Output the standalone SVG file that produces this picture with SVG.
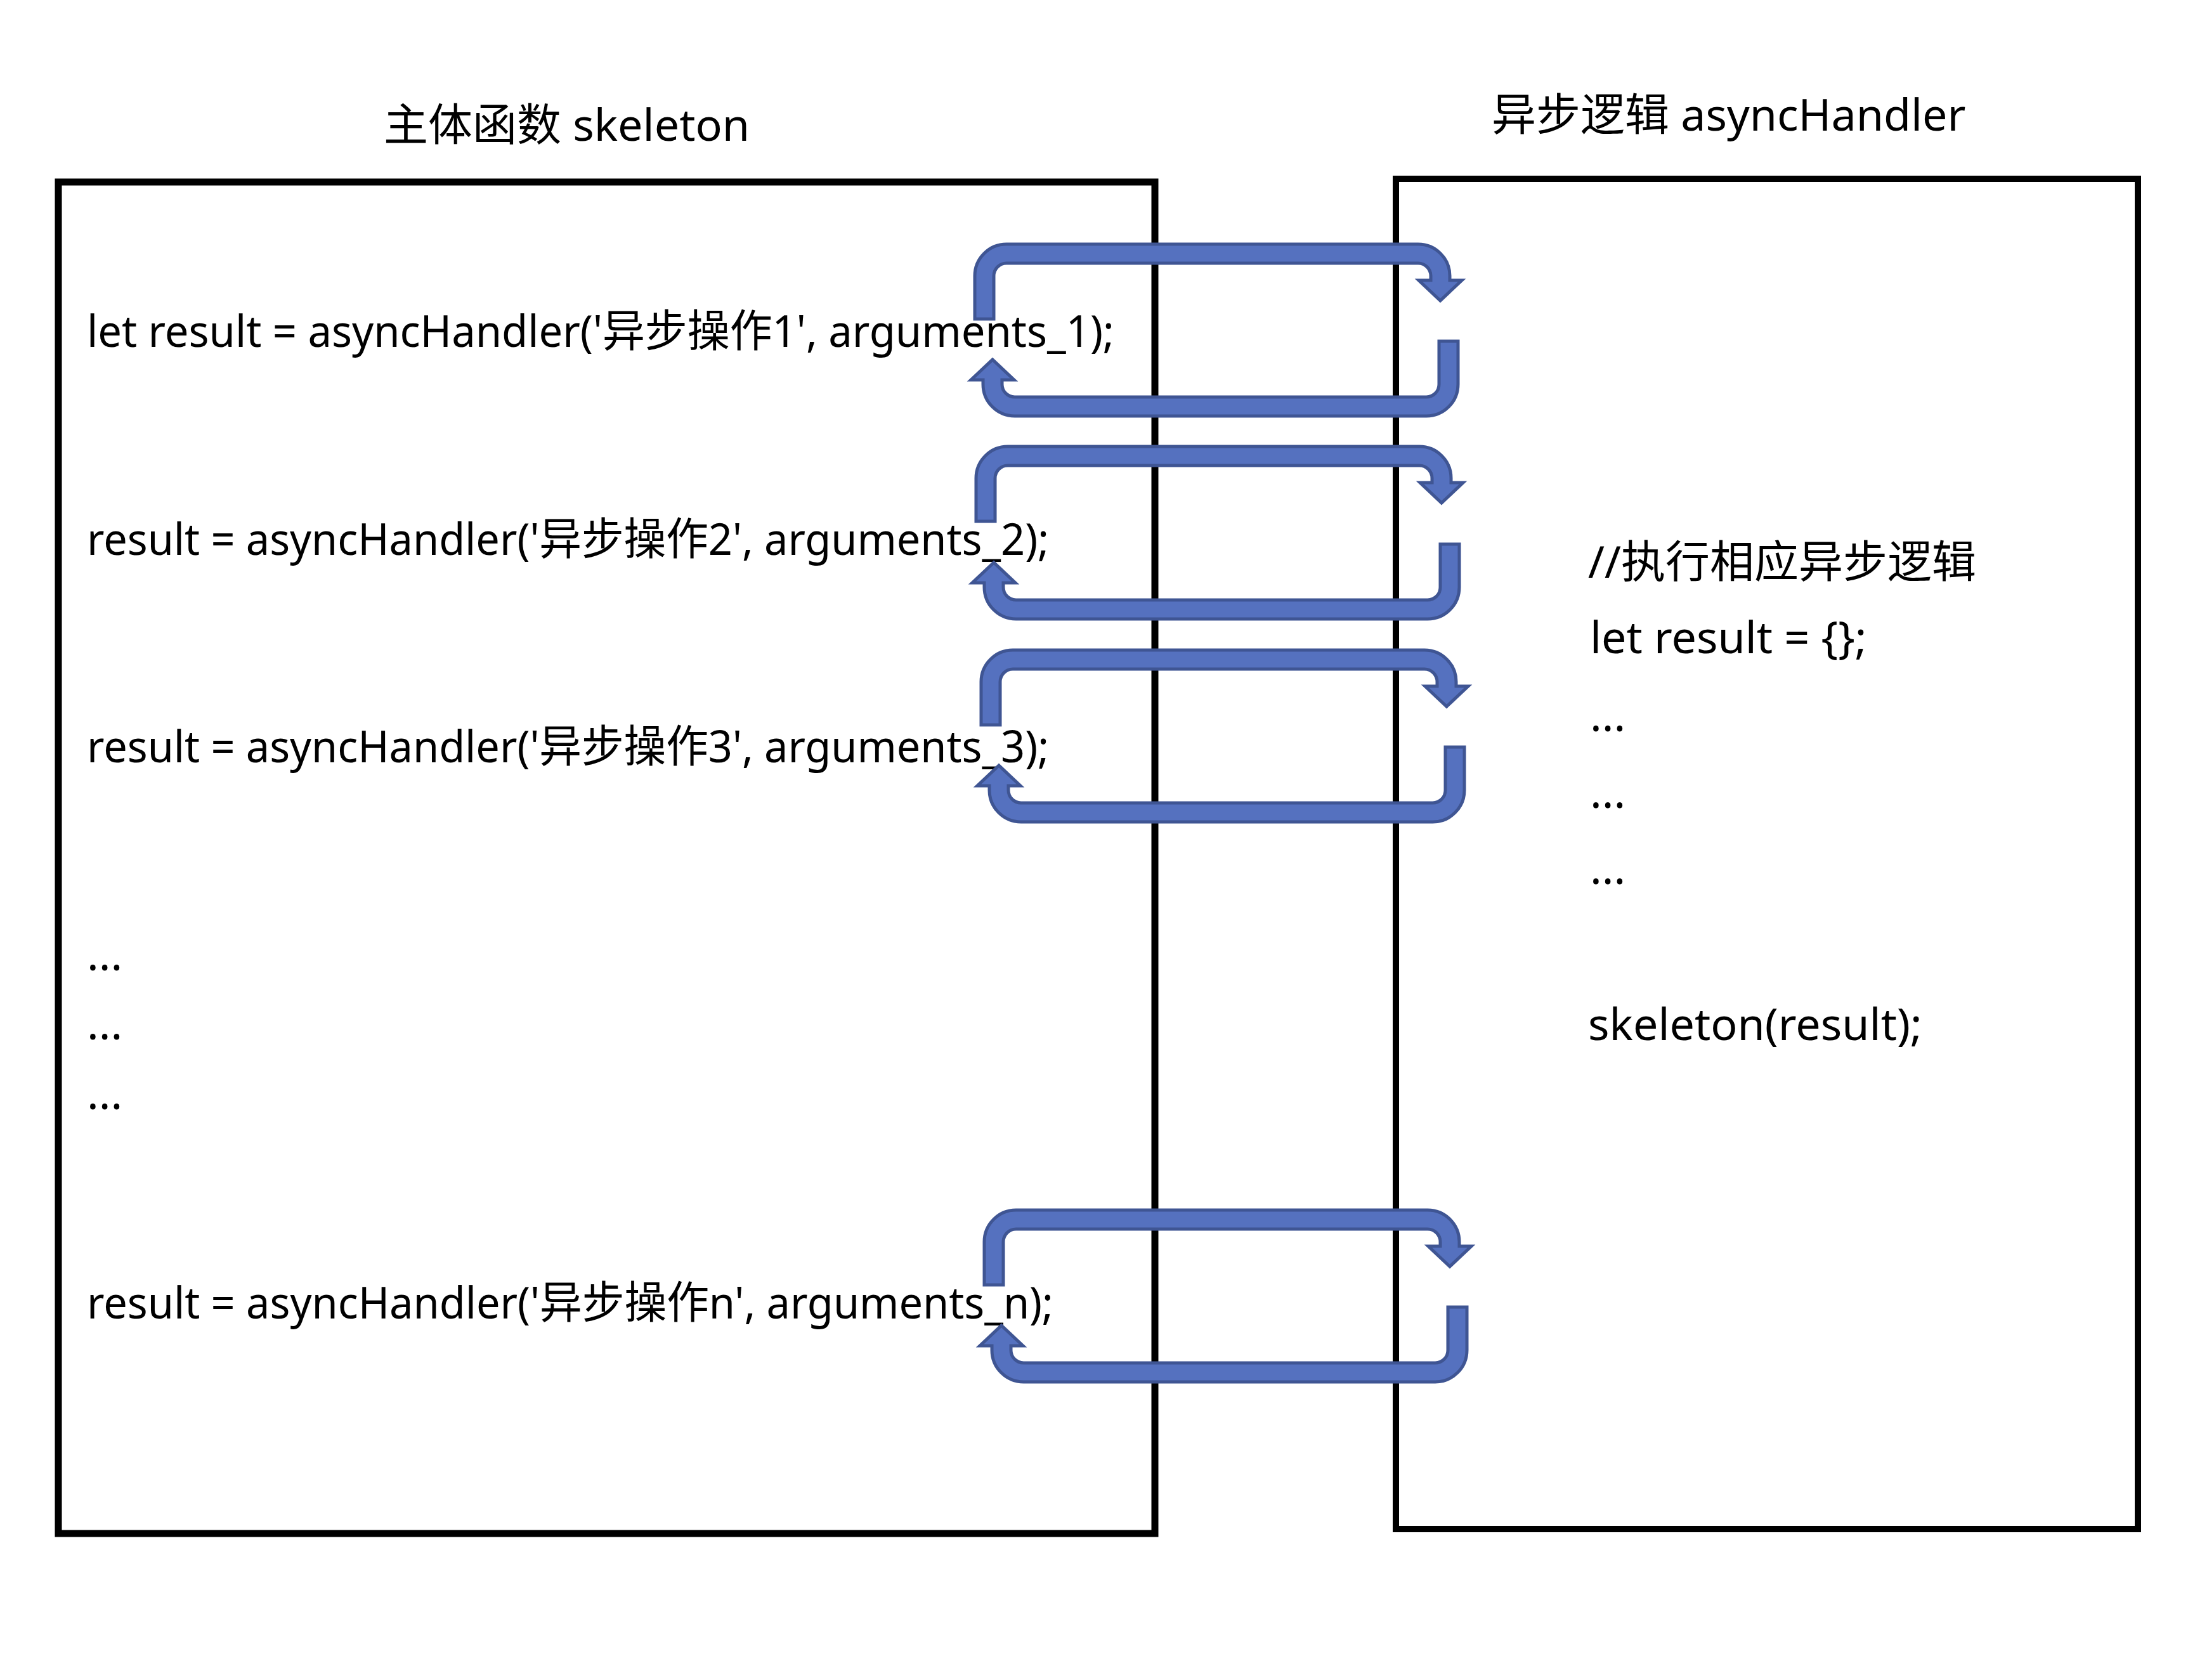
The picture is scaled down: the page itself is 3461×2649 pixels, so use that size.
<svg xmlns="http://www.w3.org/2000/svg" xmlns:xlink="http://www.w3.org/1999/xlink" width="3461" height="2649" viewBox="0 0 3461 2649">
  <style>
    .box { fill: #ffffff; stroke: #000000; stroke-width: 11; }
    .t { font-family: "Noto Sans", "Noto Sans CJK SC", sans-serif; font-size: 70px; fill: #000000; }
    .arrow { fill: #5571BF; stroke: #3F5593; stroke-width: 5; stroke-linejoin: miter; }
  </style>
  <defs>
    <path id="uturn" d="M2,120 V52 A50,50 0 0 1 52,2 H701 A50,50 0 0 1 751,52 V59 H770 L736,91 L702,59 H721 V52 A20,20 0 0 0 701,32 H52 A20,20 0 0 0 32,52 V120 Z"/>
  </defs>
  <rect width="3461" height="2649" fill="#ffffff"/>

  <g id="skeleton">
    <rect class="box" x="92" y="287" width="1729" height="2131"/>
    <text class="t" x="605" y="222">主体函数 skeleton</text>
    <text class="t" x="137" y="547" textLength="1620" lengthAdjust="spacingAndGlyphs">let result = asyncHandler('异步操作1', arguments_1);</text>
    <text class="t" x="137" y="875" textLength="1517" lengthAdjust="spacingAndGlyphs">result = asyncHandler('异步操作2', arguments_2);</text>
    <text class="t" x="137" y="1202" textLength="1517" lengthAdjust="spacingAndGlyphs">result = asyncHandler('异步操作3', arguments_3);</text>
    <text class="t" x="137" y="1530">...</text>
    <text class="t" x="137" y="1639">...</text>
    <text class="t" x="137" y="1749">...</text>
    <text class="t" x="137" y="2079" textLength="1524" lengthAdjust="spacingAndGlyphs">result = asyncHandler('异步操作n', arguments_n);</text>
  </g>

  <g id="asyncHandler">
    <rect class="box" x="2201" y="282" width="1170" height="2129" style="stroke-width:10"/>
    <text class="t" x="2352" y="206">异步逻辑 asyncHandler</text>
    <text class="t" x="2504" y="911">//执行相应异步逻辑</text>
    <text class="t" x="2507" y="1030">let result = {};</text>
    <text class="t" x="2507" y="1153">...</text>
    <text class="t" x="2507" y="1274">...</text>
    <text class="t" x="2507" y="1394">...</text>
    <text class="t" x="2504" y="1640">skeleton(result);</text>
  </g>

  <g id="connectors">
    <use class="arrow" href="#uturn" xlink:href="#uturn" transform="translate(1535,383)"/>
    <use class="arrow" href="#uturn" xlink:href="#uturn" transform="translate(2301,658) rotate(180)"/>
    <use class="arrow" href="#uturn" xlink:href="#uturn" transform="translate(1537,702)"/>
    <use class="arrow" href="#uturn" xlink:href="#uturn" transform="translate(2303,978) rotate(180)"/>
    <use class="arrow" href="#uturn" xlink:href="#uturn" transform="translate(1545,1023)"/>
    <use class="arrow" href="#uturn" xlink:href="#uturn" transform="translate(2311,1298) rotate(180)"/>
    <use class="arrow" href="#uturn" xlink:href="#uturn" transform="translate(1550,1906)"/>
    <use class="arrow" href="#uturn" xlink:href="#uturn" transform="translate(2315,2181) rotate(180)"/>
  </g>
</svg>
